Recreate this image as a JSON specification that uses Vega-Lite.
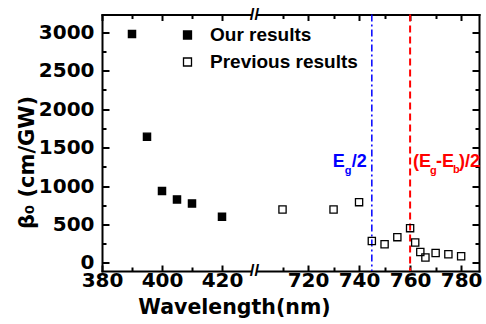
{
  "$schema": "https://vega.github.io/schema/vega-lite/v6.json",
  "width": 377,
  "height": 256.5,
  "autosize": {"type": "none"},
  "padding": {"left": 102, "top": 14.5, "right": 7, "bottom": 53},
  "background": "white",
  "config": {
    "view": {"stroke": null},
    "axis": {
      "grid": false,
      "domainColor": "black",
      "tickColor": "black",
      "labelColor": "black",
      "titleColor": "black",
      "domainWidth": 2,
      "tickWidth": 2,
      "domainCap": "square",
      "labelFlush": false,
      "labelOverlap": false
    }
  },
  "datasets": {
    "points": [
      {"series": "Our results", "wavelength": 390, "beta": 2975},
      {"series": "Our results", "wavelength": 395, "beta": 1640},
      {"series": "Our results", "wavelength": 400, "beta": 934},
      {"series": "Our results", "wavelength": 405, "beta": 825},
      {"series": "Our results", "wavelength": 410, "beta": 773},
      {"series": "Our results", "wavelength": 420, "beta": 599},
      {"series": "Previous results", "wavelength": 710, "beta": 695},
      {"series": "Previous results", "wavelength": 730, "beta": 695},
      {"series": "Previous results", "wavelength": 740, "beta": 790},
      {"series": "Previous results", "wavelength": 745, "beta": 286},
      {"series": "Previous results", "wavelength": 750, "beta": 243},
      {"series": "Previous results", "wavelength": 755, "beta": 335},
      {"series": "Previous results", "wavelength": 760, "beta": 452},
      {"series": "Previous results", "wavelength": 762, "beta": 266},
      {"series": "Previous results", "wavelength": 764, "beta": 143},
      {"series": "Previous results", "wavelength": 766, "beta": 70},
      {"series": "Previous results", "wavelength": 770, "beta": 130},
      {"series": "Previous results", "wavelength": 775, "beta": 113},
      {"series": "Previous results", "wavelength": 780, "beta": 87}
    ]
  },
  "resolve": {"axis": {"x": "independent", "y": "independent"}},
  "layer": [
    {
      "data": {"values": [{}]},
      "mark": {"type": "rect", "fill": "white"},
      "encoding": {
        "x": {"datum": 430, "type": "quantitative",
          "scale": {"domain": [380, 430, 700, 787], "range": [0, 150, 155, 377], "zero": false, "nice": false},
          "axis": {"orient": "bottom", "values": [390, 410, 710, 730, 750, 770], "tickSize": -4, "labels": false, "domain": false, "title": null}},
        "x2": {"datum": 700},
        "y": {"datum": -400, "type": "quantitative",
          "scale": {"domain": [-105, 3230], "zero": false, "nice": false},
          "axis": {"orient": "left", "values": [250, 750, 1250, 1750, 2250, 2750], "tickSize": -4, "labels": false, "domain": false, "title": null}},
        "y2": {"datum": 3500}
      }
    },
    {
      "data": {"values": [{}]},
      "mark": {"type": "text", "text": "//", "font": "Liberation Sans", "fontWeight": "bold", "fontSize": 17, "align": "center", "baseline": "middle", "color": "black"},
      "encoding": {
        "x": {"datum": 565, "type": "quantitative",
          "scale": {"domain": [380, 430, 700, 787], "range": [0, 150, 155, 377], "zero": false, "nice": false},
          "axis": {"orient": "top", "values": [380, 400, 420, 720, 740, 760, 780], "tickSize": -6, "labels": false, "title": null}},
        "y": {"datum": 3230, "type": "quantitative",
          "scale": {"domain": [-105, 3230], "zero": false, "nice": false},
          "axis": {"orient": "right", "values": [0, 500, 1000, 1500, 2000, 2500, 3000], "tickSize": -7, "labels": false, "title": null}}
      }
    },
    {
      "data": {"values": [{}]},
      "mark": {"type": "text", "text": "//", "font": "Liberation Sans", "fontWeight": "bold", "fontSize": 17, "align": "center", "baseline": "middle", "color": "black"},
      "encoding": {
        "x": {"datum": 565, "type": "quantitative",
          "scale": {"domain": [380, 430, 700, 787], "range": [0, 150, 155, 377], "zero": false, "nice": false},
          "axis": {"orient": "top", "values": [390, 410, 710, 730, 750, 770], "tickSize": -4, "labels": false, "domain": false, "title": null}},
        "y": {"datum": -105, "type": "quantitative",
          "scale": {"domain": [-105, 3230], "zero": false, "nice": false},
          "axis": {"orient": "right", "values": [250, 750, 1250, 1750, 2250, 2750], "tickSize": -4, "labels": false, "domain": false, "title": null}}
      }
    },
    {
      "data": {"values": [{}]},
      "mark": {"type": "rule", "color": "#0000ff", "strokeWidth": 1.5, "strokeDash": [7, 3, 2, 3]},
      "encoding": {
        "x": {"datum": 745, "type": "quantitative",
          "scale": {"domain": [380, 430, 700, 787], "range": [0, 150, 155, 377], "zero": false, "nice": false},
          "axis": null}
      }
    },
    {
      "data": {"values": [{}]},
      "mark": {"type": "rule", "color": "#ff0000", "strokeWidth": 2, "strokeDash": [7, 4]},
      "encoding": {
        "x": {"datum": 760, "type": "quantitative",
          "scale": {"domain": [380, 430, 700, 787], "range": [0, 150, 155, 377], "zero": false, "nice": false},
          "axis": null}
      }
    },
    {
      "data": {"name": "points"},
      "mark": {"type": "point", "shape": "square", "filled": true, "stroke": "black", "strokeWidth": 1.3, "size": 52, "opacity": 1},
      "encoding": {
        "x": {"field": "wavelength", "type": "quantitative",
          "scale": {"domain": [380, 430, 700, 787], "range": [0, 150, 155, 377], "zero": false, "nice": false},
          "axis": {"orient": "bottom", "values": [380, 400, 420, 720, 740, 760, 780], "format": "d", "tickSize": -6, "labelPadding": 5,
            "labelFont": "DejaVu Sans", "labelFontWeight": "bold", "labelFontSize": 20,
            "title": "Wavelength(nm)", "titleFont": "DejaVu Sans", "titleFontWeight": "bold", "titleFontSize": 20.5,
            "titleX": 132, "titleY": 42, "titleAlign": "center", "titleBaseline": "alphabetic"}},
        "y": {"field": "beta", "type": "quantitative",
          "scale": {"domain": [-105, 3230], "zero": false, "nice": false},
          "axis": {"orient": "left", "values": [0, 500, 1000, 1500, 2000, 2500, 3000], "format": "d", "tickSize": -7, "labelPadding": 15,
            "labelFont": "DejaVu Sans", "labelFontWeight": "bold", "labelFontSize": 20,
            "title": "β₀ (cm/GW)", "titleFont": "DejaVu Sans", "titleFontWeight": "bold", "titleFontSize": 21,
            "titleX": -69, "titleY": 147.5, "titleAngle": 270, "titleAlign": "center", "titleBaseline": "alphabetic"}},
        "fill": {"field": "series", "type": "nominal",
          "scale": {"domain": ["Our results", "Previous results"], "range": ["black", "transparent"]},
          "legend": {"orient": "none", "legendX": 76, "legendY": 11, "title": null, "padding": 0,
            "labelFont": "Liberation Sans", "labelFontWeight": "bold", "labelFontSize": 19, "labelColor": "black",
            "symbolType": "square", "symbolSize": 64, "symbolStrokeColor": "black", "symbolStrokeWidth": 1.3,
            "labelOffset": 13, "rowPadding": 7}}
      }
    },
    {
      "data": {"values": [{"t": "E", "pos": 745, "b": 1250}]},
      "mark": {"type": "text", "font": "Liberation Sans", "fontWeight": "bold", "fontSize": 18, "align": "left", "baseline": "alphabetic", "color": "#0000ff", "dx": -39},
      "encoding": {
        "x": {"field": "pos", "type": "quantitative", "scale": {"domain": [380, 430, 700, 787], "range": [0, 150, 155, 377], "zero": false, "nice": false}, "axis": null},
        "y": {"field": "b", "type": "quantitative", "scale": {"domain": [-105, 3230], "zero": false, "nice": false}, "axis": null},
        "text": {"field": "t"}
      }
    },
    {
      "data": {"values": [{"t": "g", "pos": 745, "b": 1250}]},
      "mark": {"type": "text", "font": "Liberation Sans", "fontWeight": "bold", "fontSize": 11, "align": "left", "baseline": "alphabetic", "color": "#0000ff", "dx": -27, "dy": 7},
      "encoding": {
        "x": {"field": "pos", "type": "quantitative", "scale": {"domain": [380, 430, 700, 787], "range": [0, 150, 155, 377], "zero": false, "nice": false}, "axis": null},
        "y": {"field": "b", "type": "quantitative", "scale": {"domain": [-105, 3230], "zero": false, "nice": false}, "axis": null},
        "text": {"field": "t"}
      }
    },
    {
      "data": {"values": [{"t": "/2", "pos": 745, "b": 1250}]},
      "mark": {"type": "text", "font": "Liberation Sans", "fontWeight": "bold", "fontSize": 18, "align": "left", "baseline": "alphabetic", "color": "#0000ff", "dx": -20},
      "encoding": {
        "x": {"field": "pos", "type": "quantitative", "scale": {"domain": [380, 430, 700, 787], "range": [0, 150, 155, 377], "zero": false, "nice": false}, "axis": null},
        "y": {"field": "b", "type": "quantitative", "scale": {"domain": [-105, 3230], "zero": false, "nice": false}, "axis": null},
        "text": {"field": "t"}
      }
    },
    {
      "data": {"values": [{"t": "(E", "pos": 760, "b": 1250}]},
      "mark": {"type": "text", "font": "Liberation Sans", "fontWeight": "bold", "fontSize": 18, "align": "left", "baseline": "alphabetic", "color": "#ff0000", "dx": 3},
      "encoding": {
        "x": {"field": "pos", "type": "quantitative", "scale": {"domain": [380, 430, 700, 787], "range": [0, 150, 155, 377], "zero": false, "nice": false}, "axis": null},
        "y": {"field": "b", "type": "quantitative", "scale": {"domain": [-105, 3230], "zero": false, "nice": false}, "axis": null},
        "text": {"field": "t"}
      }
    },
    {
      "data": {"values": [{"t": "g", "pos": 760, "b": 1250}]},
      "mark": {"type": "text", "font": "Liberation Sans", "fontWeight": "bold", "fontSize": 11, "align": "left", "baseline": "alphabetic", "color": "#ff0000", "dx": 20, "dy": 7},
      "encoding": {
        "x": {"field": "pos", "type": "quantitative", "scale": {"domain": [380, 430, 700, 787], "range": [0, 150, 155, 377], "zero": false, "nice": false}, "axis": null},
        "y": {"field": "b", "type": "quantitative", "scale": {"domain": [-105, 3230], "zero": false, "nice": false}, "axis": null},
        "text": {"field": "t"}
      }
    },
    {
      "data": {"values": [{"t": "-E", "pos": 760, "b": 1250}]},
      "mark": {"type": "text", "font": "Liberation Sans", "fontWeight": "bold", "fontSize": 18, "align": "left", "baseline": "alphabetic", "color": "#ff0000", "dx": 26},
      "encoding": {
        "x": {"field": "pos", "type": "quantitative", "scale": {"domain": [380, 430, 700, 787], "range": [0, 150, 155, 377], "zero": false, "nice": false}, "axis": null},
        "y": {"field": "b", "type": "quantitative", "scale": {"domain": [-105, 3230], "zero": false, "nice": false}, "axis": null},
        "text": {"field": "t"}
      }
    },
    {
      "data": {"values": [{"t": "b", "pos": 760, "b": 1250}]},
      "mark": {"type": "text", "font": "Liberation Sans", "fontWeight": "bold", "fontSize": 11, "align": "left", "baseline": "alphabetic", "color": "#ff0000", "dx": 43, "dy": 6},
      "encoding": {
        "x": {"field": "pos", "type": "quantitative", "scale": {"domain": [380, 430, 700, 787], "range": [0, 150, 155, 377], "zero": false, "nice": false}, "axis": null},
        "y": {"field": "b", "type": "quantitative", "scale": {"domain": [-105, 3230], "zero": false, "nice": false}, "axis": null},
        "text": {"field": "t"}
      }
    },
    {
      "data": {"values": [{"t": ")/2", "pos": 760, "b": 1250}]},
      "mark": {"type": "text", "font": "Liberation Sans", "fontWeight": "bold", "fontSize": 18, "align": "left", "baseline": "alphabetic", "color": "#ff0000", "dx": 49},
      "encoding": {
        "x": {"field": "pos", "type": "quantitative", "scale": {"domain": [380, 430, 700, 787], "range": [0, 150, 155, 377], "zero": false, "nice": false}, "axis": null},
        "y": {"field": "b", "type": "quantitative", "scale": {"domain": [-105, 3230], "zero": false, "nice": false}, "axis": null},
        "text": {"field": "t"}
      }
    }
  ]
}
